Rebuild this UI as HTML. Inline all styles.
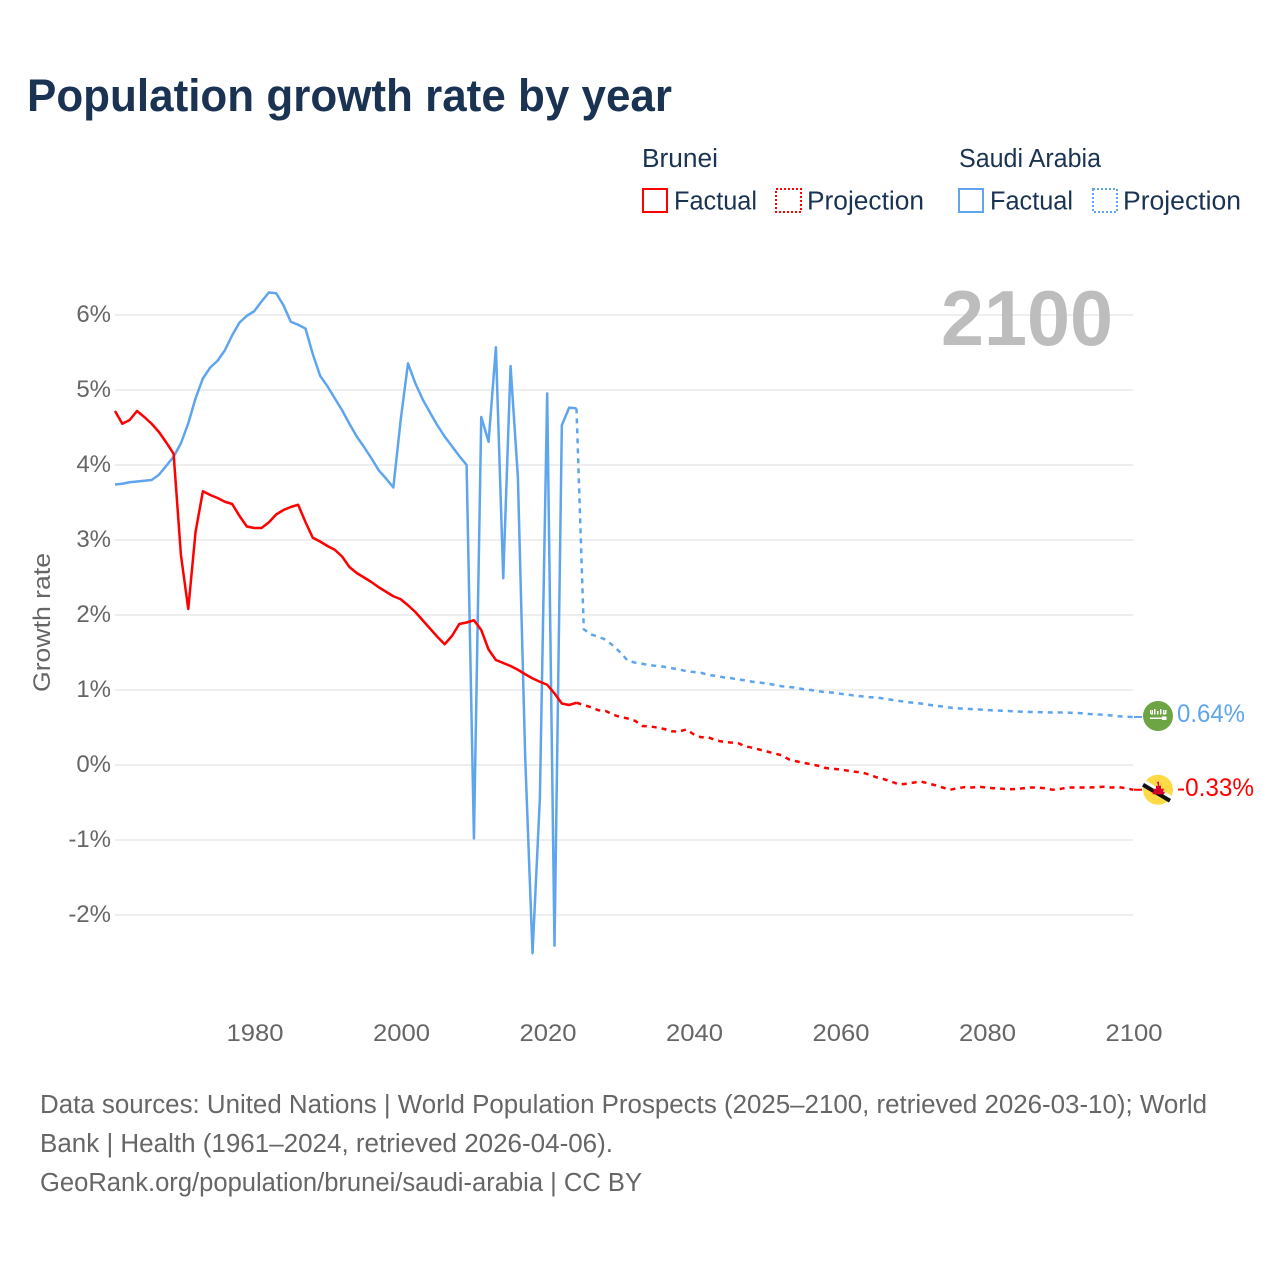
<!DOCTYPE html>
<html lang="en">
<head>
<meta charset="utf-8">
<title>Population growth rate by year</title>
<style>
html,body{margin:0;padding:0;background:#fff;width:1280px;height:1280px;overflow:hidden}
svg{display:block}
text{font-family:"Liberation Sans",sans-serif}
</style>
</head>
<body>
<svg id="chart" xmlns="http://www.w3.org/2000/svg" width="1280" height="1280" viewBox="0 0 1280 1280">
  <text x="27" y="111" font-size="45" font-weight="700" fill="#1a3353" textLength="645" lengthAdjust="spacingAndGlyphs">Population growth rate by year</text>

  <g font-size="25.5" fill="#1a3353">
    <text x="642" y="167" textLength="76" lengthAdjust="spacingAndGlyphs">Brunei</text>
    <text x="959" y="167" textLength="142" lengthAdjust="spacingAndGlyphs">Saudi Arabia</text>
    <rect x="643" y="189" width="24" height="23" fill="none" stroke="#ff0000" stroke-width="2"/>
    <text x="674" y="209.500" textLength="83" lengthAdjust="spacingAndGlyphs">Factual</text>
    <rect x="776" y="189" width="25" height="23" fill="none" stroke="#ff0000" stroke-width="2" stroke-dasharray="2 2"/>
    <text x="807" y="209.500" textLength="117" lengthAdjust="spacingAndGlyphs">Projection</text>
    <rect x="959" y="189" width="24" height="23" fill="none" stroke="#5ea5ee" stroke-width="2"/>
    <text x="990" y="209.500" textLength="83" lengthAdjust="spacingAndGlyphs">Factual</text>
    <rect x="1093" y="189" width="24" height="23" fill="none" stroke="#5ea5ee" stroke-width="2" stroke-dasharray="2 2"/>
    <text x="1123" y="209.500" textLength="118" lengthAdjust="spacingAndGlyphs">Projection</text>
  </g>

  <g id="grid"></g>
  <g id="yticks"></g>
  <g id="xticks"></g>

  <text x="941" y="345" font-size="78" font-weight="700" fill="#bdbdbd" textLength="172" lengthAdjust="spacingAndGlyphs">2100</text>
  <text transform="translate(50,692) rotate(-90)" font-size="24" fill="#666" textLength="139" lengthAdjust="spacingAndGlyphs">Growth rate</text>

  <g id="series"></g>
  <g id="ends"></g>

  <g font-size="25.5" fill="#666">
    <text x="40" y="1113" textLength="1167" lengthAdjust="spacingAndGlyphs">Data sources: United Nations | World Population Prospects (2025–2100, retrieved 2026-03-10); World</text>
    <text x="40" y="1152" textLength="573" lengthAdjust="spacingAndGlyphs">Bank | Health (1961–2024, retrieved 2026-04-06).</text>
    <text x="40" y="1191" textLength="602" lengthAdjust="spacingAndGlyphs">GeoRank.org/population/brunei/saudi-arabia | CC BY</text>
  </g>
</svg>
<script>
const factualStartYear = 1961;
const projectionStartYear = 2024;
const yTickValues = [6, 5, 4, 3, 2, 1, 0, -1, -2];
const xTickYears = [1980, 2000, 2020, 2040, 2060, 2080, 2100];

const bruneiFactual = [4.72,4.55,4.60,4.72,4.64,4.55,4.44,4.30,4.15,2.80,
  2.08,3.11,3.65,3.60,3.56,3.51,3.48,3.32,3.18,3.16,
  3.16,3.235,3.34,3.40,3.44,3.47,3.24,3.03,2.98,2.92,
  2.87,2.78,2.64,2.56,2.50,2.44,2.37,2.31,2.25,2.21,
  2.13,2.04,1.93,1.82,1.71,1.61,1.72,1.88,1.90,1.93,
  1.80,1.54,1.40,1.36,1.32,1.27,1.21,1.155,1.11,1.07,
  0.955,0.82,0.80,0.83];

const bruneiProjection = [0.83,0.80,0.77,0.73,0.72,0.67,0.64,0.62,0.59,0.52,
  0.515,0.50,0.48,0.45,0.445,0.475,0.41,0.37,0.37,0.33,
  0.31,0.30,0.295,0.25,0.23,0.205,0.18,0.155,0.13,0.075,
  0.05,0.03,0.01,-0.01,-0.04,-0.05,-0.06,-0.075,-0.09,-0.10,
  -0.13,-0.165,-0.19,-0.22,-0.26,-0.25,-0.235,-0.22,-0.245,-0.27,
  -0.30,-0.33,-0.31,-0.295,-0.30,-0.29,-0.30,-0.31,-0.315,-0.325,
  -0.32,-0.31,-0.30,-0.30,-0.31,-0.33,-0.32,-0.30,-0.30,-0.30,
  -0.30,-0.295,-0.29,-0.30,-0.295,-0.31,-0.33];

const saudiFactual = [3.74,3.75,3.77,3.78,3.79,3.80,3.87,3.99,4.11,4.29,
  4.555,4.89,5.155,5.30,5.39,5.53,5.73,5.90,5.99,6.05,
  6.18,6.30,6.29,6.13,5.91,5.87,5.82,5.48,5.19,5.05,
  4.89,4.73,4.55,4.38,4.24,4.09,3.93,3.82,3.70,4.60,
  5.355,5.09,4.875,4.70,4.53,4.38,4.25,4.12,4.00,-0.98,
  4.64,4.31,5.57,2.49,5.32,3.84,0.10,-2.51,-0.45,4.955,
  -2.41,4.53,4.765,4.755];

const saudiProjection = [4.755,1.81,1.74,1.71,1.67,1.59,1.50,1.39,1.365,1.35,
  1.33,1.32,1.31,1.29,1.275,1.25,1.24,1.23,1.20,1.19,
  1.17,1.16,1.14,1.13,1.11,1.10,1.085,1.07,1.05,1.04,
  1.03,1.01,1.00,0.985,0.97,0.965,0.95,0.94,0.925,0.915,
  0.905,0.90,0.885,0.87,0.855,0.84,0.83,0.82,0.805,0.79,
  0.78,0.765,0.755,0.75,0.745,0.74,0.733,0.728,0.724,0.72,
  0.715,0.71,0.707,0.705,0.703,0.70,0.70,0.698,0.695,0.69,
  0.68,0.675,0.67,0.66,0.65,0.645,0.64];

const RED = '#ff0000';
const BLUE = '#5ea5ee';
const NS = 'http://www.w3.org/2000/svg';

function xScale(year) { return 115 + (year - 1961) * 7.325; }
function yScale(value) { return 765 - value * 75; }

function make(tag, attrs, parent) {
  const node = document.createElementNS(NS, tag);
  Object.keys(attrs).forEach(function (k) { node.setAttribute(k, attrs[k]); });
  parent.appendChild(node);
  return node;
}

function pathFor(values, startYear) {
  return values.map(function (v, i) {
    return (i ? 'L' : 'M') + xScale(startYear + i).toFixed(2) + ' ' + yScale(v).toFixed(2);
  }).join(' ');
}

const gridGroup = document.getElementById('grid');
const yTickGroup = document.getElementById('yticks');
const xTickGroup = document.getElementById('xticks');
const seriesGroup = document.getElementById('series');
const endGroup = document.getElementById('ends');

yTickValues.forEach(function (v) {
  const line = make('line', { x1: 115, x2: 1133, y1: yScale(v), y2: yScale(v), stroke: '#eeeeee', 'stroke-width': 2 }, gridGroup);
  
  
  const label = make('text', { x: 111, y: yScale(v) + 7, 'text-anchor': 'end', 'font-size': 24, fill: '#666' }, yTickGroup);
  
  
  label.textContent = v + '%';
});

xTickYears.forEach(function (yr) {
  const label = make('text', { x: xScale(yr) - 27.7, y: 1041, 'font-size': 24, fill: '#666', textLength: 57, lengthAdjust: 'spacingAndGlyphs' }, xTickGroup);
  
  
  label.textContent = yr;
});

const saudiFactualLine = make('path', { d: pathFor(saudiFactual, factualStartYear), fill: 'none', stroke: BLUE, 'stroke-width': 2.5, 'stroke-linejoin': 'round' }, seriesGroup);



const saudiProjectionLine = make('path', { d: pathFor(saudiProjection, projectionStartYear), fill: 'none', stroke: BLUE, 'stroke-width': 2.5, 'stroke-dasharray': '5 5' }, seriesGroup);



const bruneiFactualLine = make('path', { d: pathFor(bruneiFactual, factualStartYear), fill: 'none', stroke: RED, 'stroke-width': 2.5, 'stroke-linejoin': 'round' }, seriesGroup);



const bruneiProjectionLine = make('path', { d: pathFor(bruneiProjection, projectionStartYear), fill: 'none', stroke: RED, 'stroke-width': 2.5, 'stroke-dasharray': '5 5' }, seriesGroup);



/* End-of-line markers */
const saudiLast = saudiProjection[saudiProjection.length - 1];
const bruneiLast = bruneiProjection[bruneiProjection.length - 1];
const saudiY = yScale(saudiLast);
const bruneiY = yScale(bruneiLast);

const saudiConnector = make('line', { x1: 1134, x2: 1142, y1: saudiY, y2: saudiY, stroke: BLUE, 'stroke-width': 2 }, endGroup);



const bruneiConnector = make('line', { x1: 1134, x2: 1142, y1: bruneiY, y2: bruneiY, stroke: RED, 'stroke-width': 2 }, endGroup);



const saudiFlag = make('g', { transform: 'translate(1158,' + (saudiY - 1) + ')' }, endGroup);


make('circle', { r: 15, fill: '#6da544' }, saudiFlag);
make('path', { d: 'M-8 -6v3q0 1.500 1.500 1.500h1.500v-4.500h-1v3h-.5v-3zM-4 -7h1.500v5.500h-1.500zM-1 -5h1.500v3.500h-1.500zM2 -7h1.500v5.500h-1.500zM5 -6h1.500v3h.5v-3h1.500v3q0 1.500 -1.500 1.500h-2z', fill: '#ffffff' }, saudiFlag);
make('path', { d: 'M-8 1.500h12v1.500h-12z M4 .5h4.500v3.500h-4.500z', fill: '#ffffff' }, saudiFlag);

const bruneiFlag = make('g', { transform: 'translate(1158,' + bruneiY + ')' }, endGroup);


make('circle', { r: 15, fill: '#ffda44' }, bruneiFlag);
make('path', { d: 'M-14 -8L13 8', stroke: '#ffffff', 'stroke-width': 4, fill: 'none' }, bruneiFlag);
make('path', { d: 'M-15 -5L12 11', stroke: '#111111', 'stroke-width': 4, fill: 'none' }, bruneiFlag);
make('path', { d: 'M-1 -8h2v4h2v3h3l-1 3h2l-1 2.500h-11l-1 -2.500h2l-1 -3h3v-3h2z', fill: '#d80027' }, bruneiFlag);

const saudiEndLabel = make('text', { x: 1177, y: saudiY + 5, 'font-size': 25, fill: BLUE, textLength: 68, lengthAdjust: 'spacingAndGlyphs' }, endGroup);


saudiEndLabel.textContent = saudiLast.toFixed(2) + '%';

const bruneiEndLabel = make('text', { x: 1177, y: bruneiY + 6, 'font-size': 25, fill: RED, textLength: 77, lengthAdjust: 'spacingAndGlyphs' }, endGroup);


bruneiEndLabel.textContent = bruneiLast.toFixed(2) + '%';
</script>
</body>
</html>
